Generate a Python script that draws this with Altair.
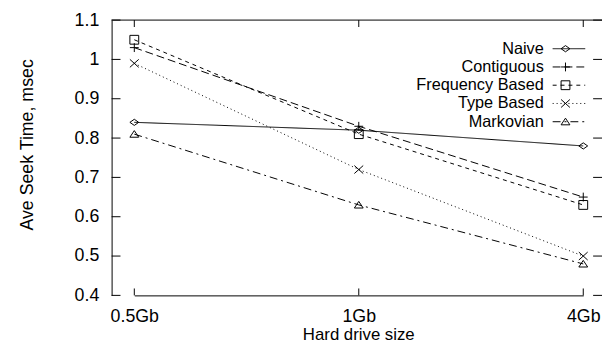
import altair as alt
import pandas as pd

sizes = ["0.5Gb", "1Gb", "4Gb"]
series = ["Naive", "Contiguous", "Frequency Based", "Type Based", "Markovian"]
naive = [0.84, 0.82, 0.78]
contiguous = [1.03, 0.83, 0.65]
frequency = [1.05, 0.81, 0.63]
type_based = [0.99, 0.72, 0.50]
markovian = [0.81, 0.63, 0.48]
y_ticks = [0.4, 0.5, 0.6, 0.7, 0.8, 0.9, 1.0, 1.1]

values = [naive, contiguous, frequency, type_based, markovian]
rows = []
for name, vals in zip(series, values):
    for s, v in zip(sizes, vals):
        rows.append({"size": s, "series": name, "time": v})
df = pd.DataFrame(rows)
leg = pd.DataFrame({"series": series, "row": list(range(len(series)))})
yt = pd.DataFrame({"v": y_ticks})
xt = pd.DataFrame({"size": sizes})
one = pd.DataFrame({"a": [0]})

W, H = 497, 279
FONT = "Liberation Sans"
FS = 18

dashes = [[1, 0], [8, 4], [4, 4], [1, 3], [8, 4, 2, 4]]
shapes = [
    "M0,-0.7L1,0L0,0.7L-1,0Z",
    "M-1,0L1,0M0,-1L0,1",
    "M-1,-1L1,-1L1,1L-1,1Z",
    "M-1,-0.9L1,0.9M-1,0.9L1,-0.9",
    "M0,-0.8L1,0.7L-1,0.7Z",
]
dash_scale = alt.Scale(domain=series, range=dashes)
shape_scale = alt.Scale(domain=series, range=shapes)
xs = alt.Scale(type="point", domain=sizes, range=[23, 478], padding=0)
ys = alt.Scale(domain=[0.4, 1.1], nice=False)

base = alt.Chart(df)
lines = base.mark_line(color="black", strokeWidth=1).encode(
    x=alt.X("size:N", scale=xs, sort=sizes,
            axis=alt.Axis(title="Hard drive size", labelAngle=0, ticks=False,
                          labelPadding=12, domainColor="black", domainWidth=1,
                          labelFontSize=FS, labelColor="black", titleFontSize=17,
                          titleFontWeight="normal", titleColor="black",
                          titleBaseline="alphabetic", titleY=45, titleX=250, grid=False)),
    y=alt.Y("time:Q", scale=ys,
            axis=alt.Axis(title="Ave Seek Time, msec", values=y_ticks, format="~g",
                          ticks=False, labelPadding=13, domainColor="black", domainWidth=1,
                          labelFontSize=FS, labelColor="black", titleFontSize=FS,
                          titleFontWeight="normal", titleColor="black", titleAngle=270,
                          titleBaseline="middle", titleAlign="center", titleX=-85,
                          titleY=126, grid=False)),
    strokeDash=alt.StrokeDash("series:N", scale=dash_scale, legend=None),
    detail="series:N",
)
points = base.mark_point(filled=False, color="black", strokeWidth=1, size=80, opacity=1).encode(
    x=alt.X("size:N", scale=xs, sort=sizes),
    y=alt.Y("time:Q", scale=ys, axis=None),
    shape=alt.Shape("series:N", scale=shape_scale, legend=None),
)

lt = alt.Chart(yt).mark_rule(color="black", strokeWidth=1).encode(
    y=alt.Y("v:Q", scale=ys, axis=None), x=alt.value(0), x2=alt.value(9))
rt = alt.Chart(yt).mark_rule(color="black", strokeWidth=1).encode(
    y=alt.Y("v:Q", scale=ys, axis=None), x=alt.value(W - 9), x2=alt.value(W))
bt = alt.Chart(xt).mark_rule(color="black", strokeWidth=1).encode(
    x=alt.X("size:N", scale=xs, sort=sizes), y=alt.value(H), y2=alt.value(H - 7))
tt = alt.Chart(xt).mark_rule(color="black", strokeWidth=1).encode(
    x=alt.X("size:N", scale=xs, sort=sizes), y=alt.value(0), y2=alt.value(7))
top = alt.Chart(one).mark_rule(color="black", strokeWidth=1).encode(
    x=alt.value(0), x2=alt.value(W), y=alt.value(0))

ly = alt.Y("row:Q", scale=alt.Scale(domain=[0, 4], range=[29, 103]), axis=None)
leg_text = alt.Chart(leg).mark_text(align="right", baseline="middle", fontSize=16.5,
                                    font=FONT, color="black").encode(
    x=alt.value(438), y=ly, text="series:N")
leg_line = alt.Chart(leg).mark_rule(color="black", strokeWidth=1).encode(
    x=alt.value(447), x2=alt.value(480), y=ly,
    strokeDash=alt.StrokeDash("series:N", scale=dash_scale, legend=None))
leg_pt = alt.Chart(leg).mark_point(filled=False, color="black", strokeWidth=1, size=80,
                                   opacity=1).encode(
    x=alt.value(460), y=ly,
    shape=alt.Shape("series:N", scale=shape_scale, legend=None))

chart = alt.layer(
    lines, points, lt, rt, bt, tt, top, leg_line, leg_pt, leg_text
).resolve_scale(y="independent").properties(
    width=W, height=H,
    autosize=alt.AutoSizeParams(type="none"),
    padding={"left": 105, "top": 10, "right": 0, "bottom": 46},
).configure(font=FONT).configure_view(stroke=None)

chart.save("out.html", embed_options={"renderer": "svg", "actions": False})
